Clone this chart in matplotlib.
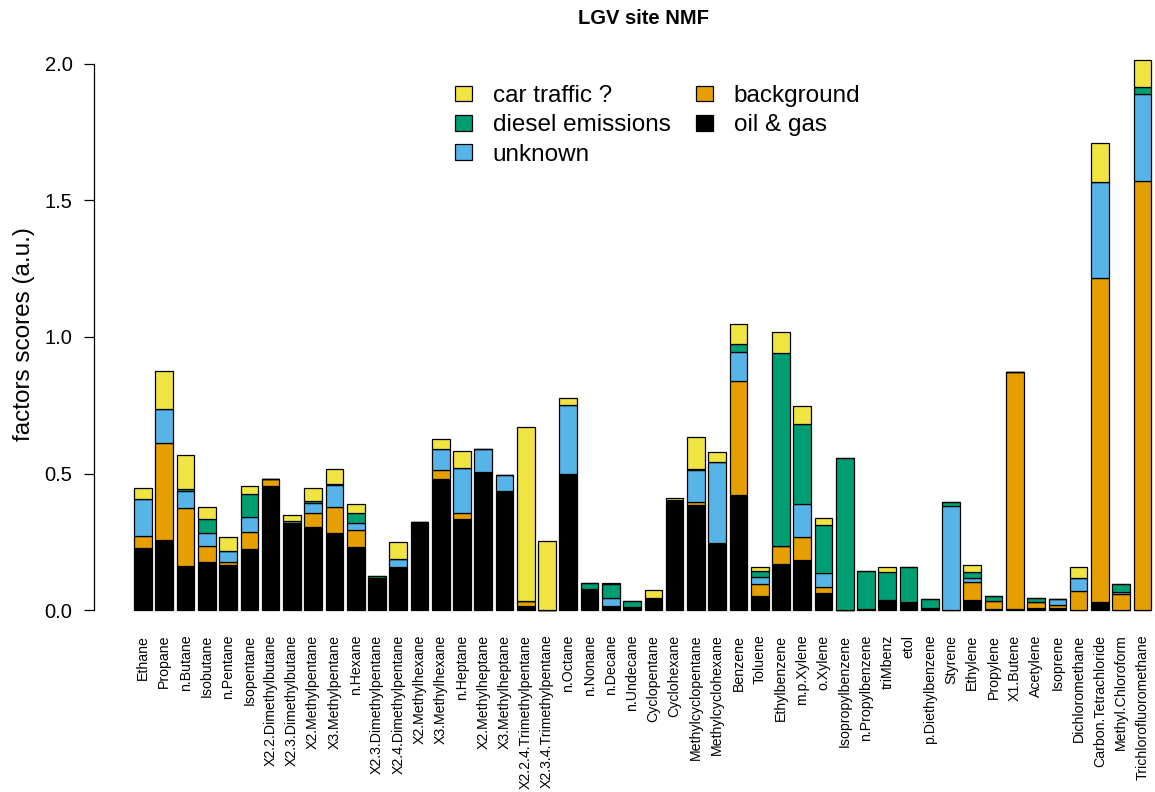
"""LGV site NMF: stacked factor scores per VOC species (5 NMF factors)."""

import numpy as np
import matplotlib.pyplot as plt
from matplotlib.patches import Patch

plt.rcParams["font.family"] = ["Liberation Sans", "DejaVu Sans"]

species = [
    "Ethane", "Propane", "n.Butane", "Isobutane", "n.Pentane", "Isopentane",
    "X2.2.Dimethylbutane", "X2.3.Dimethylbutane", "X2.Methylpentane",
    "X3.Methylpentane", "n.Hexane", "X2.3.Dimethylpentane",
    "X2.4.Dimethylpentane", "X2.Methylhexane", "X3.Methylhexane", "n.Heptane",
    "X2.Methylheptane", "X3.Methylheptane", "X2.2.4.Trimethylpentane",
    "X2.3.4.Trimethylpentane", "n.Octane", "n.Nonane", "n.Decane",
    "n.Undecane", "Cyclopentane", "Cyclohexane", "Methylcyclopentane",
    "Methylcyclohexane", "Benzene", "Toluene", "Ethylbenzene", "m.p.Xylene",
    "o.Xylene", "Isopropylbenzene", "n.Propylbenzene", "triMbenz", "etol",
    "p.Diethylbenzene", "Styrene", "Ethylene", "Propylene", "X1.Butene",
    "Acetylene", "Isoprene", "Dichloromethane", "Carbon.Tetrachloride",
    "Methyl.Chloroform", "Trichlorofluoromethane",
]

# factor contributions, stacked bottom -> top
oil_gas = [0.226, 0.255, 0.162, 0.175, 0.164, 0.223, 0.455, 0.318, 0.304, 0.283,
           0.232, 0.119, 0.156, 0.319, 0.481, 0.335, 0.505, 0.437, 0.015, 0.0,
           0.498, 0.078, 0.015, 0.008, 0.045, 0.403, 0.385, 0.244, 0.421, 0.052,
           0.168, 0.183, 0.064, 0.0, 0.005, 0.037, 0.028, 0.007, 0.0, 0.035,
           0.003, 0.003, 0.008, 0.008, 0.0, 0.028, 0.0, 0.0]
background = [0.046, 0.355, 0.210, 0.058, 0.011, 0.063, 0.025, 0.0, 0.050, 0.094,
              0.062, 0.0, 0.0, 0.0, 0.032, 0.022, 0.0, 0.0, 0.017, 0.0,
              0.0, 0.0, 0.0, 0.0, 0.0, 0.0, 0.009, 0.0, 0.419, 0.042,
              0.068, 0.083, 0.019, 0.0, 0.0, 0.0, 0.0, 0.0, 0.0, 0.068,
              0.031, 0.869, 0.023, 0.012, 0.069, 1.189, 0.058, 1.572]
unknown = [0.133, 0.127, 0.064, 0.048, 0.040, 0.056, 0.0, 0.009, 0.037, 0.081,
           0.024, 0.0, 0.030, 0.004, 0.075, 0.164, 0.083, 0.056, 0.0, 0.0,
           0.252, 0.0, 0.030, 0.004, 0.0, 0.0, 0.119, 0.299, 0.104, 0.026,
           0.0, 0.121, 0.051, 0.0, 0.0, 0.0, 0.0, 0.0, 0.380, 0.016,
           0.0, 0.0, 0.0, 0.022, 0.050, 0.352, 0.007, 0.318]
diesel = [0.0, 0.0, 0.008, 0.052, 0.0, 0.083, 0.0, 0.0, 0.007, 0.005,
          0.036, 0.005, 0.0, 0.0, 0.0, 0.0, 0.0, 0.0, 0.0, 0.0,
          0.0, 0.020, 0.049, 0.021, 0.0, 0.0, 0.004, 0.0, 0.029, 0.023,
          0.707, 0.293, 0.176, 0.558, 0.138, 0.103, 0.128, 0.035, 0.016, 0.020,
          0.017, 0.0, 0.014, 0.0, 0.0, 0.0, 0.030, 0.027]
car_traffic = [0.043, 0.138, 0.124, 0.044, 0.054, 0.028, 0.0, 0.022, 0.050, 0.052,
               0.035, 0.0, 0.062, 0.0, 0.037, 0.063, 0.0, 0.0, 0.639, 0.254,
               0.025, 0.0, 0.006, 0.0, 0.027, 0.006, 0.118, 0.037, 0.074, 0.016,
               0.074, 0.067, 0.028, 0.0, 0.0, 0.016, 0.0, 0.0, 0.0, 0.027,
               0.0, 0.0, 0.0, 0.0, 0.038, 0.142, 0.0, 0.098]

factors = [
    ("oil & gas", oil_gas, "#000000"),
    ("background", background, "#E69F00"),
    ("unknown", unknown, "#56B4E9"),
    ("diesel emissions", diesel, "#009E73"),
    ("car traffic ?", car_traffic, "#F0E442"),
]

W, H = 1155, 792
fig = plt.figure(figsize=(W / 100, H / 100), dpi=100)
# R-style plot region, clipped on the right like the original
ax = fig.add_axes([93.5 / W, (H - 618) / H, (W - 93.5) / W, (618 - 50) / H])

x = 0.7 + 1.2 * np.arange(len(species))
bottom = np.zeros(len(species))
for name, vals, col in factors:
    vals = np.asarray(vals)
    ax.bar(x, vals, width=1.0, bottom=bottom, color=col,
           edgecolor="black", linewidth=0.9)
    bottom += vals

ax.set_xlim(-2.096, 57.81)
ax.set_ylim(-8 / 273, 560 / 273)

for s in ("top", "right", "bottom"):
    ax.spines[s].set_visible(False)
ax.spines["left"].set_bounds(0, 2)
ax.spines["left"].set_linewidth(0.9)
ax.set_yticks([0, 0.5, 1.0, 1.5, 2.0])
ax.set_yticklabels(["0.0", "0.5", "1.0", "1.5", "2.0"], fontsize=14.5)
ax.tick_params(axis="y", length=7.2, width=0.9, pad=8)
ax.set_xticks(x)
ax.set_xticklabels(species, rotation=90, fontsize=10.2)
ax.tick_params(axis="x", length=0, pad=12)
ax.set_ylabel("factors scores (a.u.)", fontsize=17.5, labelpad=7)

# R centres the title over the full plot region
fig.text(643 / W, 1 - 19 / H, "LGV site NMF", ha="center", va="center",
         fontsize=14.5, fontweight="bold")

legend_order = ["car traffic ?", "diesel emissions", "unknown", "background", "oil & gas"]
colors = {name: col for name, _, col in factors}
handles = [Patch(facecolor=colors[n], edgecolor="black", linewidth=0.9, label=n)
           for n in legend_order]
fig.legend(handles=handles, loc="upper left", bbox_to_anchor=(443 / W, 1 - 73 / H),
           ncol=2, frameon=False, fontsize=17.5, handlelength=0.7, handleheight=0.6,
           handletextpad=0.85, columnspacing=1.05, labelspacing=0.3, borderpad=0)

fig.savefig("out.png", dpi=100)
